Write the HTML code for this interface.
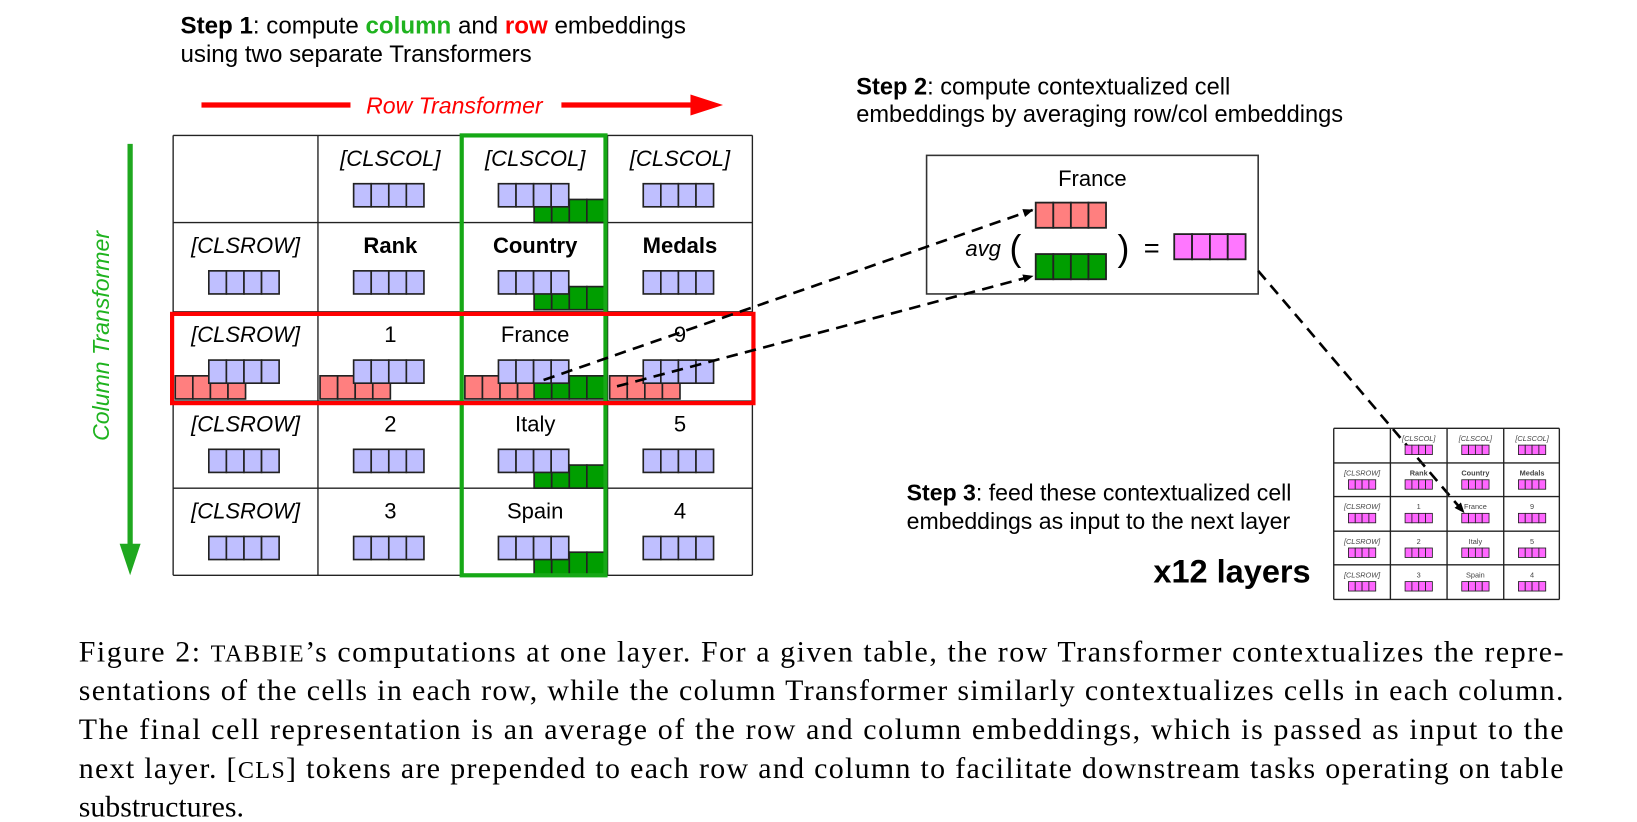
<!DOCTYPE html>
<html><head><meta charset="utf-8"><style>
html,body{margin:0;padding:0;background:#fff;}
svg{display:block;}
.s{font-family:"Liberation Sans",sans-serif;}
.cap{font-family:"Liberation Serif",serif;font-size:28.5px;fill:#000;}
</style></head><body>
<svg id="fig" width="1637" height="822" viewBox="0 0 1560 783" preserveAspectRatio="none" xmlns="http://www.w3.org/2000/svg">
<defs>
<marker id="ah" markerWidth="10" markerHeight="8" refX="9" refY="4" orient="auto" markerUnits="userSpaceOnUse" viewBox="0 0 10 8"><path d="M0,0 L10,4 L0,8 z" fill="#000"/></marker>
</defs>
<g class="s">
<text x="172" y="32" font-size="23"><tspan font-weight="bold">Step 1</tspan>: compute <tspan font-weight="bold" fill="#1fb31f">column</tspan> and <tspan font-weight="bold" fill="#f00">row</tspan> embeddings</text>
<text x="172" y="59" font-size="23">using two separate Transformers</text>
</g>
<g>
<line x1="192" y1="100" x2="334" y2="100" stroke="#f00" stroke-width="5"/>
<line x1="535" y1="100" x2="662" y2="100" stroke="#f00" stroke-width="5"/>
<polygon points="658,90 689,100 658,110" fill="#f00"/>
<text class="s" x="433" y="108" font-size="22" font-style="italic" fill="#f00" text-anchor="middle">Row Transformer</text>
</g>
<g>
<line x1="124" y1="137" x2="124" y2="522" stroke="#1fa81f" stroke-width="5"/>
<polygon points="114,518 124,548 134,518" fill="#1fa81f"/>
<text class="s" transform="translate(104,320) rotate(-90)" font-size="22" font-style="italic" fill="#1fb31f" text-anchor="middle">Column Transformer</text>
</g>
<g id="main"></g>
<g class="s">
<text x="816" y="90" font-size="22.5"><tspan font-weight="bold">Step 2</tspan>: compute contextualized cell</text>
<text x="816" y="116" font-size="22.5">embeddings by averaging row/col embeddings</text>
</g>
<g id="avgbox">
<rect x="883" y="148" width="316" height="132" fill="none" stroke="#333" stroke-width="1.5"/>
<text class="s" x="1041" y="177" font-size="21" text-anchor="middle">France</text>
<text class="s" x="920" y="244" font-size="21" font-style="italic">avg</text>
<text class="s" x="962" y="248" font-size="34">(</text>
<text class="s" x="1065" y="248" font-size="34">)</text>
<text class="s" x="1090" y="245" font-size="26">=</text>
</g>
<g id="arrows">
<line x1="518" y1="362" x2="984" y2="200" stroke="#000" stroke-width="2.5" stroke-dasharray="11,7" marker-end="url(#ah)"/>
<line x1="588" y1="368" x2="984" y2="263" stroke="#000" stroke-width="2.5" stroke-dasharray="11,7" marker-end="url(#ah)"/>
<line x1="1199" y1="258" x2="1395" y2="488" stroke="#000" stroke-width="2.5" stroke-dasharray="11,7" marker-end="url(#ah)"/>
</g>
<g class="s">
<text x="864" y="477" font-size="22"><tspan font-weight="bold">Step 3</tspan>: feed these contextualized cell</text>
<text x="864" y="504" font-size="22">embeddings as input to the next layer</text>
<text x="1249" y="555" font-size="31" font-weight="bold" text-anchor="end">x12 layers</text>
</g>
<g id="small"></g>
<g>
<text class="cap" x="75" y="630" textLength="1415" lengthAdjust="spacing">Figure 2: <tspan font-size="23">TABBIE</tspan>’s computations at one layer. For a given table, the row Transformer contextualizes the repre-</text>
<text class="cap" x="75" y="667" textLength="1415" lengthAdjust="spacing">sentations of the cells in each row, while the column Transformer similarly contextualizes cells in each column.</text>
<text class="cap" x="75" y="704" textLength="1415" lengthAdjust="spacing">The final cell representation is an average of the row and column embeddings, which is passed as input to the</text>
<text class="cap" x="75" y="741" textLength="1415" lengthAdjust="spacing">next layer. [<tspan font-size="23">CLS</tspan>] tokens are prepended to each row and column to facilitate downstream tasks operating on table</text>
<text class="cap" x="75" y="778">substructures.</text>
</g>
</svg>
<script>
const NS="http://www.w3.org/2000/svg";
const cellLabels=[["","[CLSCOL]","[CLSCOL]","[CLSCOL]"],["[CLSROW]","Rank","Country","Medals"],["[CLSROW]","1","France","9"],["[CLSROW]","2","Italy","5"],["[CLSROW]","3","Spain","4"]];
function mk(p,tag,a){const e=document.createElementNS(NS,tag);for(const k in a)e.setAttribute(k,a[k]);p.appendChild(e);return e;}
function vec(p,x,y,w,h,fill,name){
  const g=mk(p,"g",{});
  
  
  for(let i=0;i<4;i++)mk(g,"rect",{x:x+i*w/4,y:y,width:w/4,height:h,fill:fill,stroke:"#222","stroke-width":Math.max(0.8,h/14)});
}
const main=document.getElementById('main');
const cx=[165,303,441,579,717], ry=[129,212,297,382,465,548];
for(let r=0;r<5;r++)for(let c=0;c<4;c++){
  const x=cx[c], y=ry[r];
  if(!cellLabels[r][c]&&r===0)continue;
  const bx=x+34, by=y+46;
  if(r===2) vec(main,bx-32,by+15,67,22,"#ff7f7f","row-embedding");
  if(c===2) vec(main,bx+34,by+15,67,22,"#009e00","col-embedding");
}
for(let r=0;r<5;r++)for(let c=0;c<4;c++){
  const x=cx[c], y=ry[r], lab=cellLabels[r][c];
  if(!lab)continue;
  const t=mk(main,"text",{x:x+69,y:y+29,"text-anchor":"middle","font-size":21,class:"s"});
  
  
  t.textContent=lab;
  if(lab.startsWith("["))t.setAttribute("font-style","italic");
  if(r===1&&c>0)t.setAttribute("font-weight","bold");
  vec(main,x+34,y+46,67,22,"#bfbfff","cell-embedding");
}
for(const x of cx)mk(main,"line",{x1:x,y1:129,x2:x,y2:548,stroke:"#222","stroke-width":1.3});
for(const y of ry)mk(main,"line",{x1:165,y1:y,x2:717,y2:y,stroke:"#222","stroke-width":1.3});
mk(main,"rect",{x:440,y:129,width:137,height:419,fill:"none",stroke:"#16a816","stroke-width":4});
mk(main,"rect",{x:164,y:299,width:554,height:85,fill:"none",stroke:"#f00","stroke-width":4});
const ab=document.getElementById('avgbox');
vec(ab,987,193,67,24,"#ff7f7f","row-embedding-avg");
vec(ab,987,242,67,24,"#009e00","col-embedding-avg");
vec(ab,1119,223,68,24,"#ff77ff","contextualized-embedding");
const sm=document.getElementById('small');
const sx=[1271,1325,1379,1433,1486], sy=[408,441,473,506,538,571];
for(let r=0;r<5;r++)for(let c=0;c<4;c++){
  const lab=cellLabels[r][c]; if(!lab)continue;
  const x=sx[c], y=sy[r];
  const t=mk(sm,"text",{x:x+27,y:y+12,"text-anchor":"middle","font-size":7,fill:"#444",class:"s"});
  
  
  t.textContent=lab;
  if(lab.startsWith("["))t.setAttribute("font-style","italic");
  if(r===1&&c>0)t.setAttribute("font-weight","bold");
  vec(sm,x+14,y+16,26,9,"#ff66ff","small-embedding");
}
for(const x of sx)mk(sm,"line",{x1:x,y1:408,x2:x,y2:571,stroke:"#222","stroke-width":1.3});
for(const y of sy)mk(sm,"line",{x1:1271,y1:y,x2:1486,y2:y,stroke:"#222","stroke-width":1.3});
</script>
</body></html>
